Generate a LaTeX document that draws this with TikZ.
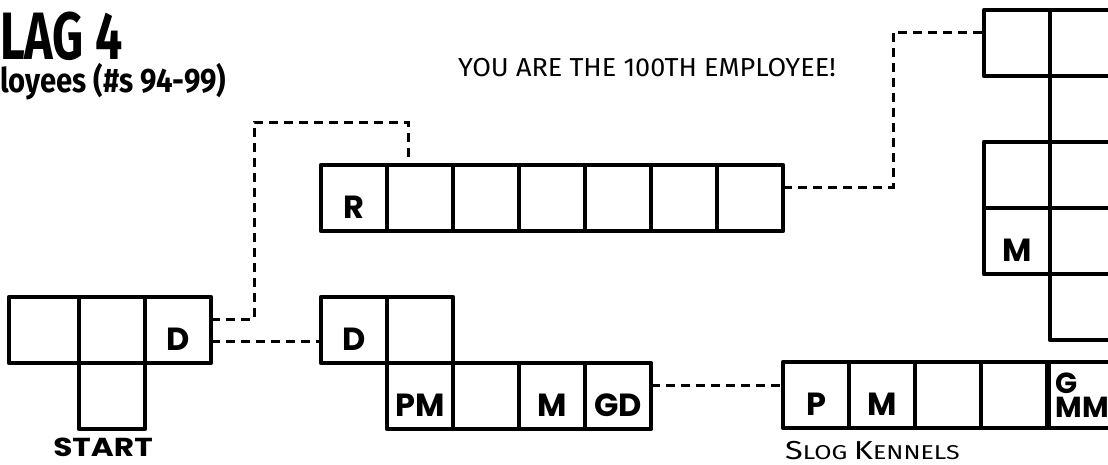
\documentclass[tikz,border=0pt]{standalone}
\usepackage{fontspec}
\setmainfont{Fira Sans}
\newfontfamily\boxfont{Poppins}
\newfontfamily\handfont{Fira Sans}
\usetikzlibrary{calc}

\tikzset{
 cell/.style={draw,line width=4.5pt,line join=round,minimum size=66pt,inner sep=0pt,outer sep=0pt,
  font=\boxfont\bfseries\fontsize{32}{32}\selectfont},
 low/.style={text height=42pt,text depth=2pt},
 link/.style={line width=3pt,dash pattern=on 9pt off 6pt},
}

\begin{document}
\begin{tikzpicture}[x=1pt,y=-1pt]
 \useasboundingbox (0,0) rectangle (1108,464);\clip (0,0) rectangle (1108,464);
 % heading, cut at the left edge
 \node[anchor=base west,inner sep=0] (title) at (0,59) {\scalebox{.72}[1]{\bfseries\fontsize{67}{67}\selectfont LAG 4}};
 \node[anchor=base west,inner sep=0] (sub) at (0,92) {\scalebox{.86}[1]{\bfseries\fontsize{34}{34}\selectfont loyees (\#s 94-99)}};
 \node[anchor=base west,inner sep=0] (note) at (458,76) {\scalebox{1.04}[1]{\handfont\fontsize{26}{26}\selectfont YOU ARE THE 100TH EMPLOYEE!}};
 % start group
 \node[cell,low,minimum width=70pt] (s1) at (44,330) {};
 \foreach \i/\x/\t in {2/112/,3/178/D}{\node[cell,low] (s\i) at (\x,330) {\t};}
 \node[cell] (s4) at (112,396) {};
 \node[inner sep=0,font=\boxfont\bfseries\fontsize{26}{26}\selectfont] (start) at (103,447) {\scalebox{1.2}[1]{START}};
 % middle groups
 \node[cell,low] (d1) at (354,330) {D};\node[cell] (d2) at (420,330) {};
 \foreach \i/\x/\t in {1/420/PM,2/486/,3/552/M,4/618/GD}{\node[cell,low] (b\i) at (\x,396) {\t};}
 \foreach \i/\t in {1/R,2/,3/,4/,5/,6/,7/}{\node[cell,low] (r\i) at (288+66*\i,198) {\t};}
 % kennels row
 \foreach \i/\t in {1/P,2/M,3/,4/}{\node[cell,low] (k\i) at (750+66*\i,395) {\t};}
 \node[cell,align=left,font=\boxfont\bfseries\fontsize{29}{24}\selectfont] (k5) at (1082,395) {G\\MM};
 \node[anchor=base west,inner sep=0] (kennels) at (785,459)
  {\scalebox{1.25}[1]{\handfont\fontsize{26}{26}\selectfont S\fontsize{20}{20}\selectfont LOG \fontsize{26}{26}\selectfont K\fontsize{20}{20}\selectfont ENNELS}};
 % right group
 \foreach \n/\x/\y/\t in {t11/1017/43/,t12/1083/43/,t22/1083/109/,t31/1017/175/,t32/1083/175/,t41/1017/241/M,t42/1083/241/,t52/1083/307/}
  {\node[cell,low] (\n) at (\x,\y) {\t};}
 % dashed links
 \draw[link] ($(s3.east)+(0,-11)$) -| (254,122) -| ($(r2.north)+(-12,0)$);
 \draw[link] ($(s3.east)+(0,11)$) -- ($(d1.west)+(0,11)$);
 \draw[link] ($(b4.east)+(0,-11)$) -- ($(k1.west)+(0,-10)$);
 \draw[link] ($(r7.east)+(0,-11)$) -| (893,32) -- ($(t11.west)+(0,-11)$);
\end{tikzpicture}
\end{document}
